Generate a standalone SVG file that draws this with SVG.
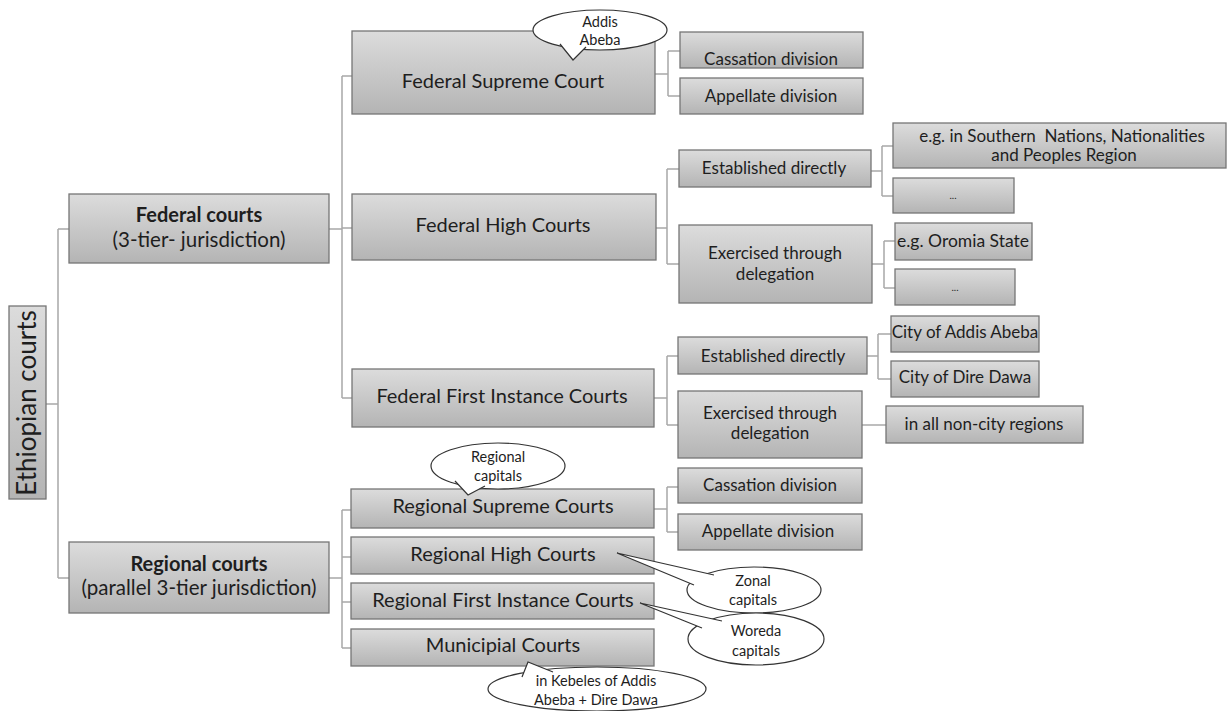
<svg xmlns="http://www.w3.org/2000/svg" width="1229" height="711" viewBox="0 0 1229 711">
<defs>
<linearGradient id="g" x1="0" y1="0" x2="0" y2="1">
<stop offset="0" stop-color="#dcdcdc"/>
<stop offset="1" stop-color="#b4b4b4"/>
</linearGradient>
<style>
.b{fill:url(#g);stroke:#767676;stroke-width:1.3}
.c{fill:none;stroke:#a8a8a8;stroke-width:1.5}
.t{font-family:Lato,"Open Sans","Liberation Sans",sans-serif;fill:#1e1e1e;text-anchor:middle}
.L{font-size:20px}
.M{font-size:17px}
.S{font-size:14.5px}
.bo{font-weight:bold}
.e{fill:#fff;stroke:#333;stroke-width:1.2}
</style>
</defs>
<rect width="1229" height="711" fill="#fff"/>
<g id="connectors">
<path class="c" d="M46,404H58M58,229V578M58,229H69M58,578H69"/>
<path class="c" d="M329,229H342M342,76V398M342,76H352M342,228H352M342,398H352"/>
<path class="c" d="M655,74H668M668,51V96M668,51H680M668,96H680"/>
<path class="c" d="M656,228H667M667,169V264M667,169H679M667,264H679"/>
<path class="c" d="M871,171H882M882,146V196M882,146H893M882,196H893"/>
<path class="c" d="M872,264H884M884,241V288M884,241H895M884,288H895"/>
<path class="c" d="M654,398H667M667,356V425M667,356H678M667,425H678"/>
<path class="c" d="M867,356H878M878,334V379M878,334H891M878,379H891"/>
<path class="c" d="M862,425H886"/>
<path class="c" d="M329,578H342M342,510V648M342,510H351M342,557H351M342,602H351M342,648H351"/>
<path class="c" d="M654,509H667M667,487V532M667,487H678M667,532H678"/>
</g>
<g id="ethiopian"><rect class="b" x="9" y="306" width="37" height="193"/><text class="t" transform="translate(36,403) rotate(-90)" style="font-size:26px">Ethiopian courts</text></g>
<g id="federal"><rect class="b" x="69" y="194" width="260" height="69"/><text class="t bo" x="199" y="222" style="font-size:20px">Federal courts</text><text class="t" x="199" y="247" style="font-size:20.5px">(3-tier- jurisdiction)</text></g>
<g id="regional"><rect class="b" x="69" y="542" width="260" height="71"/><text class="t bo" x="199" y="571" style="font-size:20px">Regional courts</text><text class="t" x="199" y="595" style="font-size:20.5px">(parallel 3-tier jurisdiction)</text></g>
<g id="fsc"><rect class="b" x="352" y="31" width="303" height="83"/><text class="t L" x="503" y="88">Federal Supreme Court</text></g>
<g id="fhc"><rect class="b" x="352" y="194" width="304" height="66"/><text class="t L" x="503" y="232">Federal High Courts</text></g>
<g id="ffic"><rect class="b" x="352" y="369" width="302" height="58"/><text class="t L" x="502" y="403">Federal First Instance Courts</text></g>
<g id="cass1"><rect class="b" x="680" y="32" width="183" height="36"/><text class="t M" x="771" y="65">Cassation division</text></g>
<g id="app1"><rect class="b" x="680" y="78" width="183" height="36"/><text class="t M" x="771" y="102">Appellate division</text></g>
<g id="est1"><rect class="b" x="679" y="150" width="192" height="37"/><text class="t M" x="774" y="174">Established directly</text></g>
<g id="exc1"><rect class="b" x="679" y="225" width="193" height="78"/><text class="t M" x="775" y="259">Exercised through</text><text class="t M" x="775" y="280">delegation</text></g>
<g id="snnpr"><rect class="b" x="893" y="123" width="333" height="45"/><text class="t M" x="1062" y="142" xml:space="preserve">e.g. in Southern  Nations, Nationalities</text><text class="t M" x="1064" y="161">and Peoples Region</text></g>
<g id="dots1"><rect class="b" x="893" y="178" width="121" height="35"/><text class="t" x="953" y="199" style="font-size:10px">...</text></g>
<g id="oromia"><rect class="b" x="895" y="223" width="137" height="37"/><text class="t" x="963" y="247" style="font-size:17.5px">e.g. Oromia State</text></g>
<g id="dots2"><rect class="b" x="895" y="269" width="120" height="36"/><text class="t" x="955" y="291" style="font-size:10px">...</text></g>
<g id="est2"><rect class="b" x="678" y="337" width="189" height="37"/><text class="t M" x="773" y="362">Established directly</text></g>
<g id="exc2"><rect class="b" x="678" y="391" width="184" height="67"/><text class="t M" x="770" y="419">Exercised through</text><text class="t M" x="770" y="439">delegation</text></g>
<g id="addis"><rect class="b" x="891" y="316" width="148" height="36"/><text class="t M" x="965" y="338">City of Addis Abeba</text></g>
<g id="dire"><rect class="b" x="891" y="361" width="148" height="36"/><text class="t M" x="965" y="383">City of Dire Dawa</text></g>
<g id="noncity"><rect class="b" x="886" y="406" width="197" height="37"/><text class="t M" x="984" y="430">in all non-city regions</text></g>
<g id="rsc"><rect class="b" x="351" y="489" width="303" height="39"/><text class="t L" x="503" y="513">Regional Supreme Courts</text></g>
<g id="rhc"><rect class="b" x="351" y="537" width="303" height="37"/><text class="t L" x="503" y="561">Regional High Courts</text></g>
<g id="rfic"><rect class="b" x="351" y="583" width="303" height="36"/><text class="t L" x="503" y="607">Regional First Instance Courts</text></g>
<g id="muni"><rect class="b" x="351" y="629" width="303" height="37"/><text class="t L" x="503" y="652">Municipial Courts</text></g>
<g id="cass2"><rect class="b" x="678" y="468" width="184" height="35"/><text class="t M" x="770" y="491">Cassation division</text></g>
<g id="app2"><rect class="b" x="678" y="514" width="184" height="36"/><text class="t M" x="768" y="537">Appellate division</text></g>
<g id="callout-addis"><ellipse class="e" cx="600" cy="30" rx="67" ry="20"/><path class="e" d="M560,44L573,60L586,47"/><text class="t S" x="600" y="27">Addis</text><text class="t S" x="600" y="45">Abeba</text></g>
<g id="callout-regional"><ellipse class="e" cx="498" cy="466" rx="67" ry="23"/><path class="e" d="M455,481L468,495L485,486"/><text class="t S" x="498" y="462">Regional</text><text class="t S" x="498" y="481">capitals</text></g>
<g id="callout-zonal"><ellipse class="e" cx="754" cy="590" rx="67" ry="23"/><path class="e" d="M694,585L617,553L714,575"/><text class="t S" x="753" y="586">Zonal</text><text class="t S" x="753" y="605">capitals</text></g>
<g id="callout-woreda"><ellipse class="e" cx="756" cy="639" rx="68" ry="26"/><path class="e" d="M702,628L640,603L722,621"/><text class="t S" x="756" y="636">Woreda</text><text class="t S" x="756" y="656">capitals</text></g>
<g id="callout-kebeles"><ellipse class="e" cx="597" cy="689" rx="109" ry="22"/><path class="e" d="M522,677L528,662L553,672"/><text class="t S" x="596" y="686">in Kebeles of Addis</text><text class="t S" x="596" y="705">Abeba + Dire Dawa</text></g>
</svg>
